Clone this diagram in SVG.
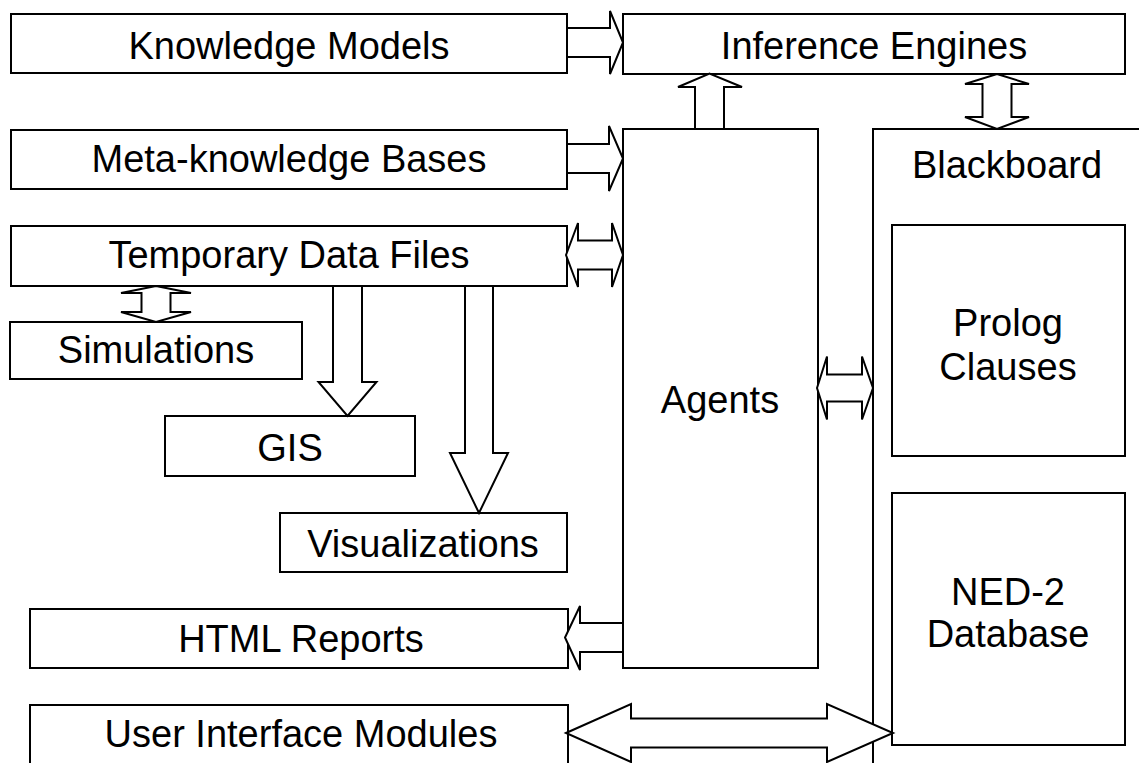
<svg xmlns="http://www.w3.org/2000/svg" width="1139" height="763" viewBox="0 0 1139 763">
<style>
rect, polygon { fill: #fff; stroke: #000; stroke-width: 2; }
text { font-family: "Liberation Sans", Arial, sans-serif; font-size: 38px; fill: #000; text-anchor: middle; }
</style>
<rect x="0" y="0" width="1139" height="763" style="stroke:none"/>
<g id="node-blackboard"><rect x="873" y="129" width="280" height="650"/><text x="1007" y="178">Blackboard</text></g>
<g id="node-prolog"><rect x="892" y="225" width="233" height="231"/><text x="1008" y="336">Prolog</text><text x="1008" y="380">Clauses</text></g>
<g id="node-ned2"><rect x="892" y="493" width="233" height="252"/><text x="1008" y="605">NED-2</text><text x="1008" y="647">Database</text></g>
<g id="node-km"><rect x="11" y="14" width="556" height="59"/><text x="289" y="59">Knowledge Models</text></g>
<g id="node-ie"><rect x="623" y="14" width="502" height="60"/><text x="874" y="59">Inference Engines</text></g>
<g id="node-meta"><rect x="11" y="130" width="556" height="59"/><text x="289" y="172">Meta-knowledge Bases</text></g>
<g id="node-temp"><rect x="11" y="226" width="556" height="60"/><text x="289" y="268">Temporary Data Files</text></g>
<g id="node-sim"><rect x="10" y="322" width="292" height="57"/><text x="156" y="363">Simulations</text></g>
<g id="node-gis"><rect x="165" y="416" width="250" height="60"/><text x="290" y="461">GIS</text></g>
<g id="node-vis"><rect x="280" y="513" width="287" height="59"/><text x="423" y="557">Visualizations</text></g>
<g id="node-agents"><rect x="623" y="129" width="195" height="539"/><text x="720" y="413">Agents</text></g>
<g id="node-html"><rect x="30" y="609" width="538" height="59"/><text x="301" y="652">HTML Reports</text></g>
<g id="node-ui"><rect x="30" y="705" width="538" height="80"/><text x="301" y="747">User Interface Modules</text></g>
<g id="connectors">
<polygon points="567,28 610,28 610,11 623,42.5 610,74 610,57 567,57"/>
<polygon points="567,144 609,144 609,126 623,158.5 609,191 609,173 567,173"/>
<polygon points="566,255 578,223 578,240.5 612,240.5 612,223 623,255 612,287 612,269.5 578,269.5 578,287"/>
<polygon points="156,286 191,293 170.5,293 170.5,312 191,312 156,322 121,312 141.5,312 141.5,293 121,293"/>
<polygon points="333,286 362,286 362,382 376.5,382 347.5,416 318.5,382 333,382"/>
<polygon points="465,286 493,286 493,453 508,453 479,513 450,453 465,453"/>
<polygon points="695,129 695,87 678,87 709.5,73.5 742,87 724,87 724,129"/>
<polygon points="997,74 1029,84 1011.5,84 1011.5,117 1029,117 997,129 965,117 982.5,117 982.5,84 965,84"/>
<polygon points="817,388 827,356.5 827,374.5 862,374.5 862,356.5 873,388 862,419.5 862,401.5 827,401.5 827,419.5"/>
<polygon points="623,623 580,623 580,606 565,637.5 580,670 580,652 623,652"/>
<polygon points="566,733 631,704 631,718.5 827,718.5 827,704 893,733 827,762 827,747.5 631,747.5 631,762"/>
</g>
</svg>
